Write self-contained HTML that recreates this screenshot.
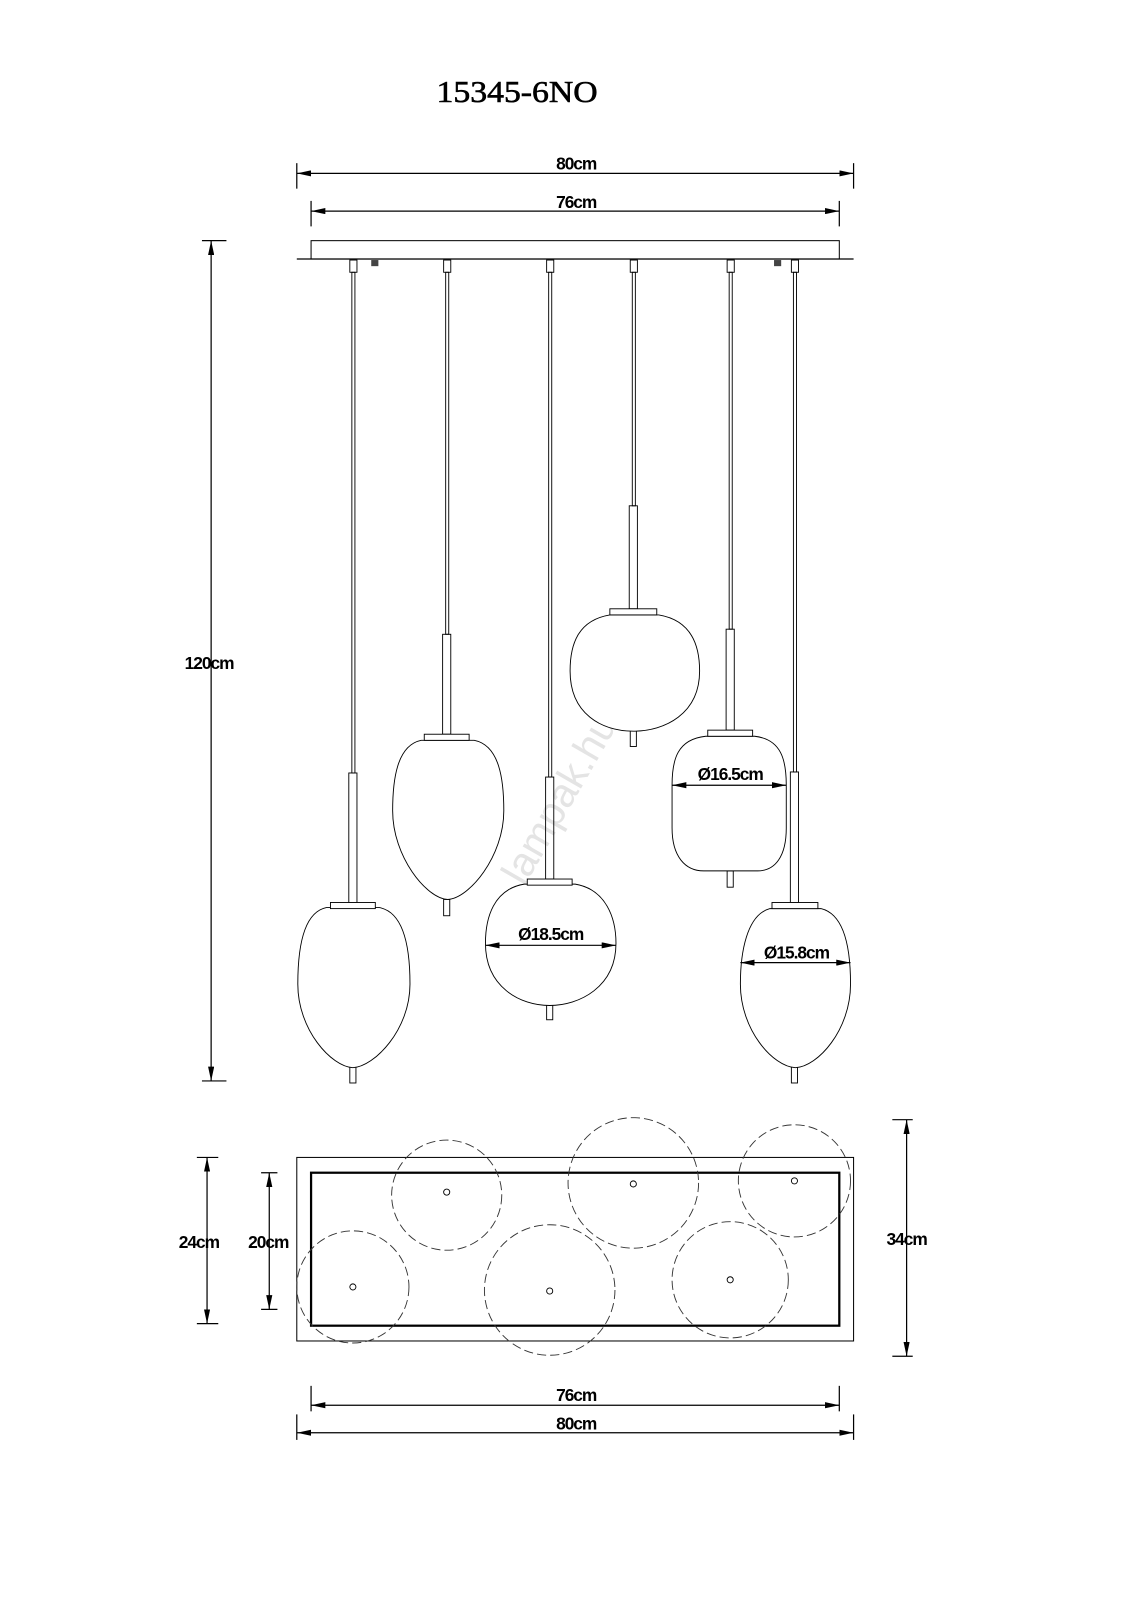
<!DOCTYPE html>
<html><head><meta charset="utf-8"><style>html,body{margin:0;padding:0;background:#fff}svg{display:block}</style></head>
<body>
<svg xmlns="http://www.w3.org/2000/svg" width="1131" height="1600" viewBox="0 0 1109 1569">
<defs>
<marker id="a" viewBox="0 0 14 6" refX="14" refY="3" markerWidth="14" markerHeight="6" markerUnits="userSpaceOnUse" orient="auto-start-reverse"><path d="M0,0 L14,3 L0,6 Z" fill="#000"/></marker>
</defs>
<rect width="1109" height="1569" fill="#fff"/>
<text x="428" y="100" font-family="Liberation Serif, serif" font-size="30" textLength="158" lengthAdjust="spacingAndGlyphs" stroke="#000" stroke-width="0.6">15345-6NO</text>
<g stroke="#000" stroke-width="1.2" fill="none">
<line x1="291" y1="170" x2="837" y2="170" marker-start="url(#a)" marker-end="url(#a)"/>
<line x1="291" y1="160" x2="291" y2="185"/><line x1="837" y1="160" x2="837" y2="185"/>
<line x1="305" y1="207" x2="823" y2="207" marker-start="url(#a)" marker-end="url(#a)"/>
<line x1="305" y1="197" x2="305" y2="222"/><line x1="823" y1="197" x2="823" y2="222"/>
<rect x="305" y="236" width="518" height="18" stroke-width="1"/>
<line x1="291" y1="254" x2="837" y2="254"/>
<line x1="207" y1="236" x2="207" y2="1060" marker-start="url(#a)" marker-end="url(#a)"/>
<line x1="198" y1="236" x2="222" y2="236"/><line x1="198" y1="1060" x2="222" y2="1060"/>
</g>
<rect x="364" y="255" width="7" height="6" fill="#444"/>
<rect x="759" y="255" width="7" height="6" fill="#444"/>
<text x="0" y="0" transform="translate(560,790) rotate(-60)" font-family="Liberation Sans, sans-serif" font-size="40" fill="#e4e4e4" text-anchor="middle">lampak.hu</text>
<g stroke="#000" stroke-width="0.9" fill="none">
<rect x="343" y="255" width="7" height="12"/><rect x="435" y="255" width="7" height="12"/><rect x="536" y="255" width="7" height="12"/><rect x="618" y="255" width="7" height="12"/><rect x="713" y="255" width="7" height="12"/><rect x="776" y="255" width="7" height="12"/>
<rect x="345" y="267" width="3" height="491"/>
<rect x="437" y="267" width="3" height="355"/>
<rect x="538" y="267" width="3" height="495"/>
<rect x="620" y="267" width="3" height="229"/>
<rect x="715" y="267" width="3" height="350"/>
<rect x="778" y="267" width="3" height="490"/>
<rect x="342" y="758" width="8" height="127"/>
<rect x="434" y="622" width="8" height="98"/>
<rect x="535" y="762" width="8" height="100"/>
<rect x="617" y="496" width="8" height="101"/>
<rect x="712" y="617" width="8" height="99"/>
<rect x="775" y="757" width="8" height="128"/>
<rect x="343" y="1046" width="6" height="16"/>
<rect x="435" y="882" width="6" height="16"/>
<rect x="536" y="985" width="6" height="15"/>
<rect x="618" y="716" width="6" height="16"/>
<rect x="713" y="854" width="6" height="16"/>
<rect x="776" y="1046" width="6" height="16"/>
</g>
<g stroke="#000" stroke-width="0.9" fill="#fff">
<path d="M320,890 C296,895 292,935 292,965 C292,1010 325,1046 346,1047 C367,1046 402,1010 402,965 C402,935 398,895 372,890 Z"/>
<path d="M413,726 C389,731 385,765 385,795 C385,840 418,881 439,882 C460,881 494,840 494,795 C494,765 490,731 465,726 Z"/>
<path d="M514,867 C484,872 476,900 476,925 C476,968 510,986 539,986 C568,986 604,968 604,925 C604,900 594,872 564,867 Z"/>
<path d="M598,603 C568,608 559,630 559,658 C559,700 590,717 621,717 C652,717 686,700 686,658 C686,630 676,608 646,603 Z"/>
<path d="M692,722 C664,725 659,745 659,770 L659,812 C659,840 672,854 690,854 L743,854 C760,854 771,840 771,812 L771,770 C771,745 766,725 740,722 Z"/>
<path d="M755,891 C732,897 726,935 726,965 C726,1010 758,1046 780,1047 C802,1046 834,1010 834,965 C834,935 830,897 805,891 Z"/>
<rect x="324" y="885" width="44" height="6"/>
<rect x="416" y="720" width="44" height="6"/>
<rect x="517" y="862" width="44" height="6"/>
<rect x="598" y="597" width="46" height="6"/>
<rect x="694" y="716" width="44" height="6"/>
<rect x="757" y="885" width="45" height="6"/>
</g>
<g stroke="#000" stroke-width="1.2">
<line x1="476" y1="927" x2="604" y2="927" marker-start="url(#a)" marker-end="url(#a)"/>
<line x1="659" y1="770" x2="771" y2="770" marker-start="url(#a)" marker-end="url(#a)"/>
<line x1="726" y1="944" x2="834" y2="944" marker-start="url(#a)" marker-end="url(#a)"/>
</g>
<g font-family="Liberation Sans, sans-serif" font-weight="bold" font-size="17" text-anchor="middle" letter-spacing="-1">
<text x="565" y="166">80cm</text>
<text x="565" y="204">76cm</text>
<text x="205" y="656">120cm</text>
<text x="540" y="922">Ø18.5cm</text>
<text x="716" y="765">Ø16.5cm</text>
<text x="781" y="940">Ø15.8cm</text>
<text x="195" y="1224">24cm</text>
<text x="263" y="1224">20cm</text>
<text x="889" y="1221">34cm</text>
<text x="565" y="1374">76cm</text>
<text x="565" y="1402">80cm</text>
</g>
<g fill="none" stroke="#000">
<rect x="291" y="1135" width="546" height="180" stroke-width="1"/>
<rect x="305" y="1150" width="518" height="150" stroke-width="2.2"/>
<g stroke-width="0.9" stroke="#333" stroke-dasharray="9,4">
<circle cx="346" cy="1262" r="55"/><circle cx="438" cy="1172" r="54"/><circle cx="539" cy="1265" r="64"/>
<circle cx="621" cy="1160" r="64"/><circle cx="716" cy="1255" r="57"/><circle cx="779" cy="1158" r="55"/>
</g>
<g stroke-width="0.9"><circle cx="346" cy="1262" r="3"/><circle cx="438" cy="1169" r="3"/><circle cx="539" cy="1266" r="3"/><circle cx="621" cy="1161" r="3"/><circle cx="716" cy="1255" r="3"/><circle cx="779" cy="1158" r="3"/></g>
<g stroke-width="1.2">
<line x1="203" y1="1135" x2="203" y2="1298" marker-start="url(#a)" marker-end="url(#a)"/>
<line x1="193" y1="1135" x2="214" y2="1135"/><line x1="193" y1="1298" x2="214" y2="1298"/>
<line x1="264" y1="1150" x2="264" y2="1284" marker-start="url(#a)" marker-end="url(#a)"/>
<line x1="256" y1="1150" x2="272" y2="1150"/><line x1="256" y1="1284" x2="272" y2="1284"/>
<line x1="889" y1="1098" x2="889" y2="1330" marker-start="url(#a)" marker-end="url(#a)"/>
<line x1="875" y1="1098" x2="895" y2="1098"/><line x1="875" y1="1330" x2="895" y2="1330"/>
<line x1="305" y1="1378" x2="823" y2="1378" marker-start="url(#a)" marker-end="url(#a)"/>
<line x1="305" y1="1359" x2="305" y2="1384"/><line x1="823" y1="1359" x2="823" y2="1384"/>
<line x1="291" y1="1405" x2="837" y2="1405" marker-start="url(#a)" marker-end="url(#a)"/>
<line x1="291" y1="1387" x2="291" y2="1412"/><line x1="837" y1="1387" x2="837" y2="1412"/>
</g>
</g>
</svg>
</body></html>
